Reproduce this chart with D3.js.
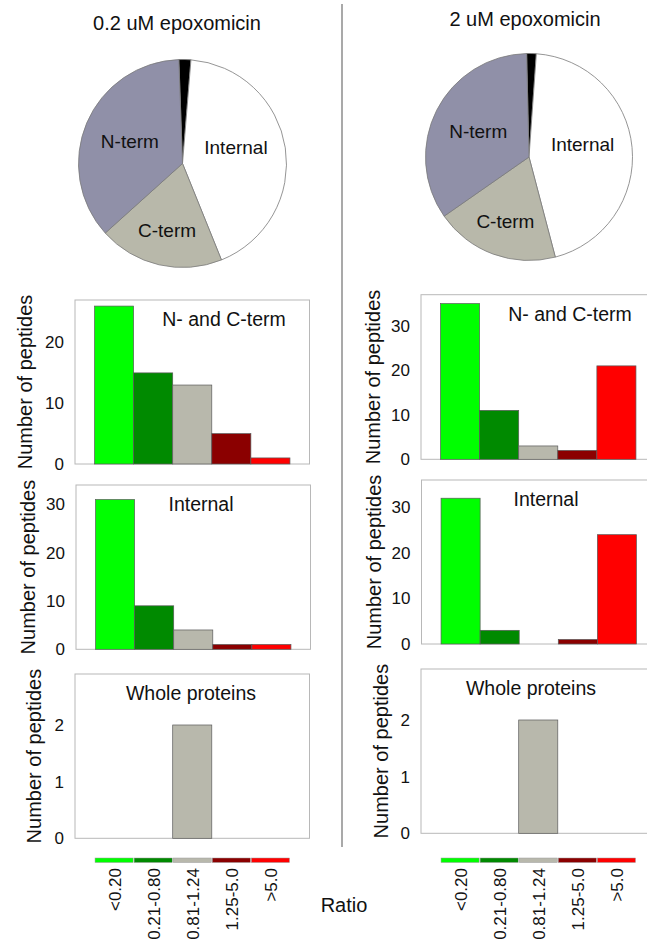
<!DOCTYPE html>
<html>
<head>
<meta charset="utf-8">
<script src="https://cdn.jsdelivr.net/npm/d3@7/dist/d3.min.js"></script>
<style>
  body { margin: 0; background: #fff; }
  svg text { font-family: "Liberation Sans", Arial, sans-serif; fill: #111; }
</style>
</head>
<body>
<div id="chart"></div>
<script>
// ratio bins (shared by every bar panel)
const RATIO_BINS = ["<0.20", "0.21-0.80", "0.81-1.24", "1.25-5.0", ">5.0"];

// pie categories, clockwise from the top
const PIE_CATS = ["Whole", "Internal", "C-term", "N-term"];
const PIE_LOW = [2, 46, 21, 39];
const PIE_HIGH = [2, 60, 26, 46];

// bar counts per ratio bin
const LOW_NC = [26, 15, 13, 5, 1];
const LOW_INTERNAL = [31, 9, 4, 1, 1];
const LOW_WHOLE = [0, 0, 2, 0, 0];
const HIGH_NC = [35, 11, 3, 2, 21];
const HIGH_INTERNAL = [32, 3, 0, 1, 24];
const HIGH_WHOLE = [0, 0, 2, 0, 0];

const TICKS_TENS = [0, 10, 20];
const TICKS_TENS30 = [0, 10, 20, 30];
const TICKS_ONES = [0, 1, 2];

const BIN_COLORS = ["#00ff00", "#008a00", "#b8b8ac", "#8b0000", "#ff0000"];
const PIE_COLORS = { "Whole": "#000", "Internal": "#fff", "C-term": "#b8b8aa", "N-term": "#9090a8" };

const W = 647, H = 944;

const svg = d3.select("#chart").append("svg")
    .attr("width", W)
    .attr("height", H);

// divider between the two columns
svg.append("line")
    .attr("x1", 342).attr("x2", 342)
    .attr("y1", 4).attr("y2", 847)
    .attr("stroke", "#8c8c8c")
    .attr("stroke-width", 1.5);

function drawPie(cfg) {
    svg.append("text")
        .attr("x", cfg.titleX)
        .attr("y", cfg.titleY)
        .attr("text-anchor", "middle")
        .style("font-size", "20px")
        .text(cfg.title);

    const start = cfg.start * Math.PI / 180;
    const pie = d3.pie().sort(null).startAngle(start).endAngle(start + 2 * Math.PI);
    const arcs = pie(cfg.values);
    const arc = d3.arc().innerRadius(0).outerRadius(cfg.r);

    const g = svg.append("g").attr("transform", "translate(" + cfg.cx + "," + cfg.cy + ")");
    g.selectAll("path")
        .data(arcs)
        .enter()
        .append("path")
        .attr("d", arc)
        .attr("fill", (d, i) => PIE_COLORS[PIE_CATS[i]])
        .attr("stroke", "#7a7a7a")
        .attr("stroke-width", 0.8);

    // label radius as a share of r, and a small vertical nudge
    const labelR = { "Internal": 0.52, "C-term": 0.66, "N-term": 0.55 };
    const labelDy = { "Internal": -8, "C-term": 0, "N-term": 0 };
    arcs.forEach((d, i) => {
        const cat = PIE_CATS[i];
        if (!(cat in labelR)) return;
        const rr = cfg.r * labelR[cat];
        const c = d3.arc().innerRadius(rr).outerRadius(rr).centroid(d);
        g.append("text")
            .attr("x", c[0])
            .attr("y", c[1] + labelDy[cat])
            .attr("dy", "0.35em")
            .attr("text-anchor", "middle")
            .style("font-size", "19px")
            .text(cat);
    });
}

drawPie({ title: "0.2 uM epoxomicin", titleX: 177, titleY: 30, cx: 182.5, cy: 163.5, r: 104, values: PIE_LOW, start: -2 });
drawPie({ title: "2 uM epoxomicin", titleX: 525, titleY: 26, cx: 529, cy: 157, r: 103.5, values: PIE_HIGH, start: -1.3 });

const FRAME_W = 234.5;

function drawBars(p) {
    const x = d3.scaleBand()
        .domain(RATIO_BINS)
        .range([p.left, p.left + FRAME_W])
        .paddingInner(0)
        .paddingOuter(0.5);
    const y = d3.scaleLinear()
        .domain([0, p.max])
        .range([p.bottom, p.top]);

    svg.append("rect")
        .attr("x", p.left)
        .attr("y", p.top)
        .attr("width", FRAME_W)
        .attr("height", p.bottom - p.top)
        .attr("fill", "none")
        .attr("stroke", "#b8b8b8")
        .attr("stroke-width", 1);

    svg.append("g")
        .selectAll("rect")
        .data(p.values.map((v, i) => ({ bin: RATIO_BINS[i], v: v, i: i })).filter(d => d.v > 0))
        .enter()
        .append("rect")
        .attr("x", d => x(d.bin))
        .attr("y", d => y(d.v))
        .attr("width", x.bandwidth())
        .attr("height", d => y(0) - y(d.v))
        .attr("fill", d => BIN_COLORS[d.i])
        .attr("stroke", "#5a5a5a")
        .attr("stroke-width", 0.7);

    const axis = svg.append("g")
        .attr("transform", "translate(" + p.left + ",0)")
        .call(d3.axisLeft(y).tickValues(p.ticks).tickFormat(d3.format("d")).tickSize(0).tickPadding(11));
    axis.select(".domain").remove();
    axis.selectAll("text")
        .style("font-size", "17px")
        .style("font-family", "'Liberation Sans', Arial, sans-serif")
        .attr("fill", "#111");

    svg.append("text")
        .attr("transform", "translate(" + (p.left - p.labelOff) + "," + ((p.top + p.bottom) / 2) + ") rotate(-90)")
        .attr("dy", "0.35em")
        .attr("text-anchor", "middle")
        .style("font-size", "20px")
        .text("Number of peptides");

    svg.append("text")
        .attr("x", p.left + p.titleX)
        .attr("y", p.top + 26)
        .attr("text-anchor", "middle")
        .style("font-size", "19.5px")
        .text(p.title);

    return x;
}

drawBars({ left: 75, top: 300, bottom: 464, max: 27, ticks: TICKS_TENS, values: LOW_NC, title: "N- and C-term", titleX: 149, labelOff: 50 });
drawBars({ left: 76, top: 485, bottom: 649.3, max: 34, ticks: TICKS_TENS30, values: LOW_INTERNAL, title: "Internal", titleX: 125, labelOff: 48 });
const xLowWhole = drawBars({ left: 75, top: 674, bottom: 838.3, max: 2.9, ticks: TICKS_ONES, values: LOW_WHOLE, title: "Whole proteins", titleX: 116, labelOff: 41 });

drawBars({ left: 421, top: 294.7, bottom: 459.3, max: 37, ticks: TICKS_TENS30, values: HIGH_NC, title: "N- and C-term", titleX: 149, labelOff: 48 });
drawBars({ left: 421.5, top: 480, bottom: 644, max: 36, ticks: TICKS_TENS30, values: HIGH_INTERNAL, title: "Internal", titleX: 124.5, labelOff: 48 });
const xHighWhole = drawBars({ left: 421, top: 669, bottom: 833.3, max: 2.9, ticks: TICKS_ONES, values: HIGH_WHOLE, title: "Whole proteins", titleX: 110, labelOff: 40 });

// colour key under each column
function drawKey(x) {
    const g = svg.append("g");
    g.selectAll("rect")
        .data(RATIO_BINS)
        .enter()
        .append("rect")
        .attr("x", d => x(d) + 0.5)
        .attr("y", 858)
        .attr("width", x.bandwidth() - 1)
        .attr("height", 4.5)
        .attr("fill", (d, i) => BIN_COLORS[i])
        .attr("stroke", "#9a9a9a")
        .attr("stroke-width", 0.5);
    g.selectAll("text")
        .data(RATIO_BINS)
        .enter()
        .append("text")
        .attr("transform", d => "translate(" + (x(d) + x.bandwidth() / 2 + 1) + ",868) rotate(-90)")
        .attr("dy", "0.35em")
        .attr("text-anchor", "end")
        .style("font-size", "17px")
        .text(d => d);
}

drawKey(xLowWhole);
drawKey(xHighWhole);

svg.append("text")
    .attr("x", 344)
    .attr("y", 912)
    .attr("text-anchor", "middle")
    .style("font-size", "20px")
    .text("Ratio");
</script>
</body>
</html>
